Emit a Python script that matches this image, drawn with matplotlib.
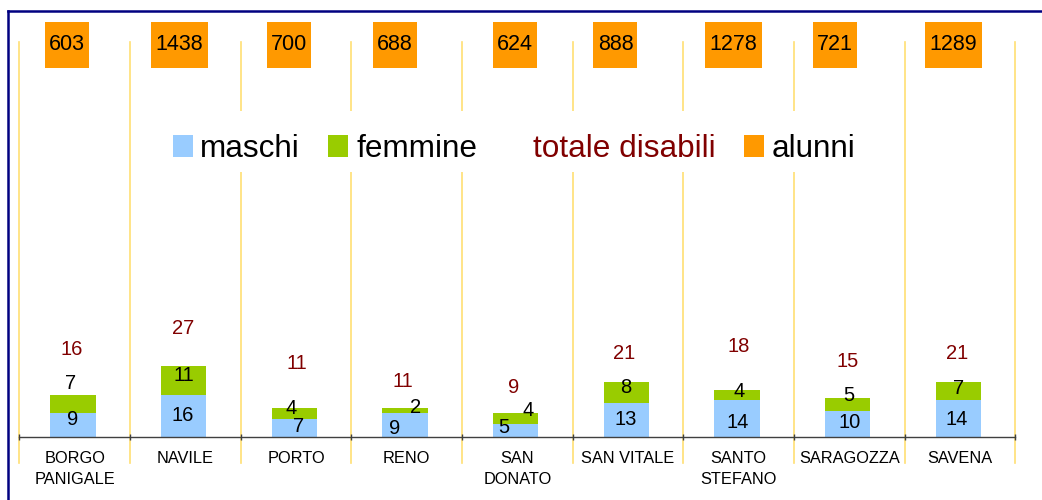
import numpy as np
import matplotlib
matplotlib.use("Agg")
import matplotlib.pyplot as plt
import matplotlib.transforms as mtransforms
from matplotlib.patches import Patch, Rectangle
from matplotlib.lines import Line2D

# ---------------- data ----------------
categories = ['BORGO\nPANIGALE', 'NAVILE', 'PORTO', 'RENO', 'SAN\nDONATO',
              'SAN VITALE', 'SANTO\nSTEFANO', 'SARAGOZZA', 'SAVENA']
maschi = [9, 16, 7, 9, 5, 13, 14, 10, 14]
femmine = [7, 11, 4, 2, 4, 8, 4, 5, 7]
totale = [16, 27, 11, 11, 9, 21, 18, 15, 21]
alunni = [603, 1438, 700, 688, 624, 888, 1278, 721, 1289]

# label nudges (pixels) imitating the original placement
m_dx = [-1, -1, 4.5, -10.5, -11.5, -1, 0.5, 1.5, -2]
m_dy = [7.2, 2, 2.5, -1.8, 5, 2.4, -2.4, 2.8, 1.1]
f_dx = [-3, 0, -3, 10, 12, -1, 2, 1.5, 0.5]
f_dy = [22.4, 6.4, 6.6, 5, 9.8, 6.2, 4.9, 10, 3.9]
t_dx = [-1, -1, 2.5, -2.7, -1.7, -2, 1.5, 0, -1.5]
t_dy = [47, 39, 46, 28.5, 28, 30, 44.6, 37.5, 30]
box_dx = [-7.7, -5.8, -7, -11.9, -2.3, -12.5, -5.2, -14.3, -6.5]

# ---------------- style ----------------
C_BLUE = '#99CCFF'
C_GREEN = '#99CC00'
C_ORANGE = '#FF9900'
C_RED = '#800000'
C_GRID = '#FFDF73'
C_FRAME = '#000080'
FONT = 'Liberation Sans'
plt.rcParams['font.family'] = [FONT, 'DejaVu Sans']

W, H = 1042, 500
fig = plt.figure(figsize=(W / 100, H / 100), dpi=100)
fig.patch.set_facecolor('white')

ax_l, ax_r, ax_b, ax_t = 19.3, 1015.3, 437, 42
ax = fig.add_axes([ax_l / W, (H - ax_b) / H, (ax_r - ax_l) / W, (ax_b - ax_t) / H])
ax.set_xlim(-0.5, 8.5)
ax.set_ylim(0, 150)
px_per_x = (ax_r - ax_l) / 9.0

def py2ax(py):
    return (ax_b - py) / (ax_b - ax_t)

x = np.arange(len(categories))
shift = -1.5 / px_per_x
bw = 0.41

ax.bar(x + shift, maschi, width=bw, color=C_BLUE, zorder=3)
ax.bar(x + shift, femmine, bottom=maschi, width=bw, color=C_GREEN, zorder=3)

blend = mtransforms.blended_transform_factory(ax.transData, ax.transAxes)

# vertical separators
for b in np.arange(-0.5, 9.0, 1.0):
    ax.plot([b, b], [py2ax(462.5), 1.0], color=C_GRID, lw=1.2,
            transform=blend, clip_on=False, zorder=1)

# labels
lab_fs = 14.5
em = lab_fs * 100 / 72.0
cshift = 0.358 * em
for i in range(len(categories)):
    xc = x[i] + shift
    ax.annotate(str(maschi[i]), xy=(xc, maschi[i] / 2.0),
                xytext=(m_dx[i], m_dy[i] - cshift), textcoords='offset pixels',
                ha='center', va='baseline', fontsize=lab_fs, color='black', zorder=5)
    ax.annotate(str(femmine[i]), xy=(xc, maschi[i] + femmine[i] / 2.0),
                xytext=(f_dx[i], f_dy[i] - cshift), textcoords='offset pixels',
                ha='center', va='baseline', fontsize=lab_fs, color='black', zorder=5)
    ax.annotate(str(totale[i]), xy=(xc, totale[i]),
                xytext=(t_dx[i], t_dy[i] - cshift), textcoords='offset pixels',
                ha='center', va='baseline', fontsize=lab_fs, color=C_RED, zorder=5)

# orange "alunni" boxes
box_top, box_bot = 21.7, 68.3
for i, v in enumerate(alunni):
    s = str(v)
    xc = x[i] + box_dx[i] / px_per_x
    wpx = 13.0 * len(s) + 5
    ax.add_patch(Rectangle((xc - wpx / 2.0 / px_per_x, py2ax(box_bot)),
                           wpx / px_per_x, py2ax(box_top) - py2ax(box_bot),
                           transform=blend, facecolor=C_ORANGE, edgecolor='none',
                           clip_on=False, zorder=4))
    ax.text(xc, py2ax(49.5), s, transform=blend, ha='center', va='baseline',
            fontsize=15.5, color='black', zorder=5, clip_on=False)

# axes styling
for sp in ['top', 'left', 'right']:
    ax.spines[sp].set_visible(False)
ax.spines['bottom'].set_color('#404040')
ax.spines['bottom'].set_linewidth(1.0)
ax.spines['bottom'].set_zorder(6)
ax.set_yticks([])
ax.set_xticks(x)
ax.set_xticklabels(categories, fontsize=11.8, linespacing=1.5)
ax.tick_params(axis='x', which='major', length=0, pad=10.4)
ax.set_xticks(np.arange(-0.5, 9.0, 1.0), minor=True)
ax.tick_params(axis='x', which='minor', length=4, direction='inout',
               color='#404040', width=1.0)
ax.set_facecolor('none')

# legend: white band hiding the separators, then the entries
fig.add_artist(Rectangle((160 / W, 1 - 172.3 / H), (870 - 160) / W, (172.3 - 110.7) / H,
                         transform=fig.transFigure, facecolor='white',
                         edgecolor='none', zorder=1))
leg_fs = 22.7
handles = [Patch(facecolor=C_BLUE, edgecolor='none'),
           Patch(facecolor=C_GREEN, edgecolor='none'),
           Patch(facecolor='none', edgecolor='none'),
           Patch(facecolor=C_ORANGE, edgecolor='none')]
labels = ['maschi', 'femmine', 'totale disabili', 'alunni']
leg = fig.legend(handles, labels, ncol=4, fontsize=leg_fs,
                 loc='center left', bbox_to_anchor=((172.7 - 12.6) / W, 1 - 149.0 / H),
                 borderaxespad=0, handlelength=0.635, handleheight=0.72,
                 handletextpad=0.24, columnspacing=0.9, frameon=False)
leg.set_zorder(2)
leg.get_texts()[2].set_color(C_RED)

# outer frame (navy top and left border)
fig.add_artist(Line2D([8 / W, 1.0], [1 - 11 / H, 1 - 11 / H], color=C_FRAME,
                      lw=1.8, transform=fig.transFigure))
fig.add_artist(Line2D([8 / W, 8 / W], [0.0, 1 - 11 / H], color=C_FRAME,
                      lw=1.8, transform=fig.transFigure))

fig.savefig('out.png', dpi=100)
